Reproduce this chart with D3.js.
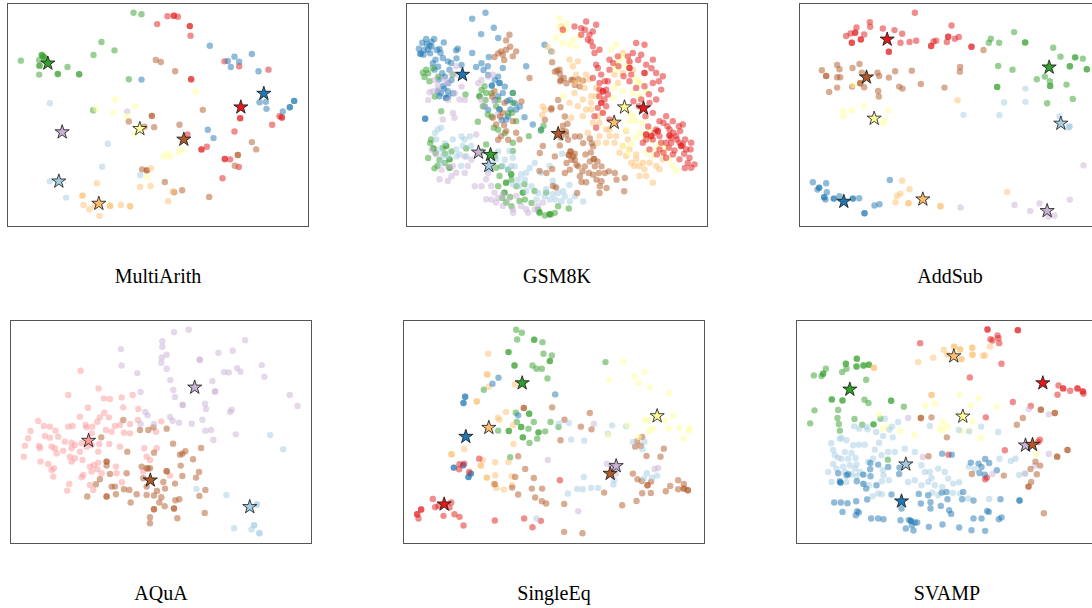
<!DOCTYPE html>
<html>
<head>
<meta charset="utf-8">
<script src="https://cdn.jsdelivr.net/npm/d3@7"></script>
<style>
    body { margin: 0; background: #fff; }
    svg { display: block; }
</style>
</head>
<body>
<div id="chart"></div>
<script>

// Cluster ids index into d3.schemePaired. Points are [dim1, dim2] or [dim1, dim2, count]
// (count > 1 where several samples sit on the same spot). Stars are [cluster, dim1, dim2].

const multiArithPoints = [
    [3, [[62,182],[117,180],[125,165,2],[130,170,2],[118,197,2],[135,175],[117,224],[173,222,2],[237,223,2],[202,201],[280,165],[304,126],[343,151],[400,38],[424,42],[386,238],[279,331]]],
    [5, [[471,72],[502,48],[521,47,2],[533,50],[569,78,2],[571,107],[573,238,2],[673,184],[717,199],[805,209],[720,355,2],[703,395],[816,375],[838,349],[845,353,2],[562,404],[604,449,2],[620,441],[674,478,2],[690,479],[716,502],[667,536]]],
    [1, [[629,137],[683,183],[703,170],[717,185],[692,201],[755,162],[775,214],[778,307],[797,306],[799,327],[848,335],[869,322,2],[882,303,2],[424,239],[623,390],[640,415]]],
    [0, [[149,310],[323,432],[306,501],[149,545],[198,594],[420,527]]],
    [8, [[381,335]]],
    [10, [[345,298],[405,320],[381,348],[339,338],[287,327],[586,275],[403,403],[490,470],[502,463],[510,470],[535,457],[547,451],[440,533]]],
    [11, [[467,180],[482,186],[525,214],[608,330],[455,348,2],[386,365],[433,381],[462,382],[538,375],[755,427],[768,449],[713,466,2],[704,498],[426,509],[440,512,2],[494,547],[522,578],[546,572],[627,592]]],
    [6, [[290,551],[247,588,2],[250,616],[268,629],[284,619],[330,619,2],[362,616],[390,620,2],[298,649],[420,562],[451,559],[504,605],[518,575],[452,506]]]
];
const multiArithStars = [[3,143,190],[5,722,322],[1,791,281],[0,176,545],[8,186,397],[10,419,387],[11,551,419],[6,296,612]];

const gsm8kPoints = [
    [1, [[262,38],[222,56],[287,83],[249,102],[300,114],[84,117],[108,117],[94,137],[67,161,2],[76,164],[89,149],[124,147],[137,127],[179,146],[174,151],[222,159],[234,201],[269,199],[272,171],[314,204],[304,249,2],[281,257,2],[314,279],[344,279],[327,304],[337,329],[354,329],[379,352],[304,329,2],[324,359],[311,361],[384,199],[439,134],[459,154],[81,357,2],[109,209],[122,239],[134,259],[149,274],[144,294,2],[124,289],[119,274],[159,189],[134,174],[149,184],[154,209],[112,179],[429,389],[404,374],[100,125],[127,158],
         [72,128],[86,132],[100,140],[116,150],[62,146],[78,150],[96,160],[104,190],[120,200],[132,220],[140,230],[150,250],[160,240],[138,266],[128,280],[150,290],[165,280],[175,175],[190,195],[250,190],[256,210],[270,225],[290,240],[300,230],[320,260],[335,300],[350,310],[365,320],[290,300],[300,290],[330,350],[270,330],[260,320]]],
    [3, [[84,209],[79,231],[94,244],[104,204],[129,334],[202,284],[244,289,2],[264,279],[259,259],[254,319],[269,344],[239,366],[287,384],[344,279],[344,309],[342,339],[354,364],[294,319],[99,419],[106,446,2],[134,444],[144,439,2],[154,479,2],[124,481],[109,506],[154,504,2],[204,446],[344,429],[344,454],[294,504],[304,529],[324,549,2],[339,524,2],[319,579,2],[379,554],[374,579,2],[409,574],[324,609],[364,604],[424,639,2],[454,644,2],[444,579],[392,409],[164,224],[264,434],[436,378],[428,393],[512,627],[458,645],[440,648],
         [90,220],[74,218],[120,230],[110,290],[250,270],[262,300],[280,280],[300,300],[330,340],[280,350],[300,390],[320,400],[96,430],[112,460],[140,462],[160,455],[90,475],[118,498],[140,490],[250,455],[290,470],[310,500],[330,510],[340,540],[355,560],[300,560],[312,595],[340,620],[380,600],[400,610],[420,630],[470,640],[480,620],[336,592]]],
    [8, [[174,199],[179,224],[149,249],[119,257],[104,274],[94,277],[184,299],[164,339],[169,354],[134,359],[284,224],[289,304],[299,344],[114,464],[164,499],[174,519],[124,539],[149,544],[209,499],[264,539],[279,559],[264,599],[289,579],[314,584],[294,609],[314,619],[344,629],[369,619],[384,629],[419,619],[434,609],[354,589],[234,404],
         [160,220],[140,240],[120,270],[110,240],[170,280],[190,260],[200,300],[240,250],[250,240],[270,230],[100,450],[130,510],[160,530],[200,520],[220,480],[200,470],[270,520],[250,560],[280,600],[300,595],[330,600],[345,640],[390,640],[410,630],[230,560],[150,500],[250,300],[260,320],[90,300],[150,300]]],
    [0, [[119,389],[129,384],[114,419],[124,449],[134,469],[174,449],[184,464],[194,439],[199,419],[219,439],[189,499],[164,419],[334,454],[344,474],[314,499],[339,499],[369,524],[384,519],[344,554],[364,559],[384,574],[444,569],[464,584],[429,519],[454,499],[274,509],[294,479],[480,580],[495,575],[455,600],[472,600],[490,605],[515,605],[555,606],[492,462],[464,543],[514,556],
         [110,400],[140,430],[150,470],[130,490],[175,470],[205,470],[190,410],[215,410],[320,480],[330,510],[360,540],[380,540],[400,560],[420,580],[440,590],[415,600],[350,500],[470,560],[500,590],[530,590],[395,505],[410,490],[300,455],[280,490]]],
    [11, [[334,104],[324,121],[309,154],[314,164],[289,171],[344,169],[354,154],[324,149],[394,234],[289,274],[319,309],[314,339],[284,354],[294,374],[324,394],[309,409],[354,399],[364,419],[344,364],[434,439],[459,329],[424,514],[464,559],[474,564],[462,187],[477,212],[485,222],[488,240],[497,234],[520,240],[540,238],[555,242],[460,325],[487,322],[500,350],[508,372],[494,378],[503,395],[488,413],[485,437],[545,410],[517,455,2],[512,466,2],[525,470],[520,480],[505,490],[535,495],[537,580],[550,547],[553,515],[575,416],[581,430],[585,440],[578,458],[587,478,2],[598,485],[590,500],[602,520],[605,560],[620,520],[632,515],[655,540],[680,535],[678,575],[604,580],[540,500],[575,485],[484,209],[486,244],[524,239],
         [504,404],[492,394],[510,420],[530,462],[530,480],[560,500],[585,525],[595,540],[572,520],[564,548],[545,530],[610,545],[625,565],[650,520],[530,410],[555,430],[610,500],[470,470],[500,520],[515,510],[562,464],[480,300],[505,250],[530,255],[545,260],[470,215],[300,160],[318,180],[336,140],[282,290],[306,350],[330,420],[300,420],[318,376],[370,305],[440,360],[425,460],[445,520],[462,508]]],
    [6, [[489,79],[514,179],[539,184],[564,224],[574,239],[559,264],[529,279],[554,299],[539,319],[564,329],[579,309],[554,349],[584,369],[614,339],[634,389],[654,409],[649,429],[674,439],[684,394],[624,429],[604,409],[684,469],[714,479],[709,499],[724,529],[754,489],[774,499],[794,479],[764,549],[714,464],[659,249],[674,219],[704,209],[649,224],[694,189],[674,159],[519,354],[448,140],[462,155],[434,320],[432,345],[514,309],[440,330],
         [524,199],[534,224],[549,244],[594,264],[594,289],[579,329],[569,399],[604,369],[624,389],[664,459],[694,449],[699,489],[734,489],[739,509],[784,509],[744,529],[724,499],[634,409],[599,429],[689,419],[579,289],[529,249],[599,349]]],
    [10, [[484,54],[504,69],[494,99],[474,114],[514,134],[534,139],[494,129],[654,134],[639,149],[674,169],[654,194],[714,234],[719,249],[704,279],[724,289],[694,339],[714,364],[734,369],[724,399],[739,409],[759,419],[774,449],[794,459],[814,479],[834,514],[674,439],[699,434],[754,389],[784,434],[494,289],[644,294],
         [504,89],[524,119],[484,79],[544,109],[664,179],[654,209],[684,199],[724,249],[744,274],[694,364],[704,349],[684,389],[744,459],[764,469],[804,444],[824,499],[689,459],[714,414],[649,264],[674,274]]],
    [5, [[529,79],[549,84],[564,64],[594,74],[494,89],[549,104],[569,119],[584,139],[589,159],[594,194],[584,234],[609,224],[604,269],[624,269],[619,299],[609,309,2],[624,319],[614,339],[634,359],[594,384],[599,204],[629,244],[634,209],[659,169],[689,169],[694,184],[714,129],[739,134],[704,159],[729,164],[744,194],[764,179],[739,219,2],[774,219],[764,249],[794,229],[789,269],[739,259],[714,264],[699,224],[729,299],[754,309],[764,339],[784,364],[804,349],[824,364],[854,374],[774,389],[784,409],[814,389],[819,414],[804,429],[834,409],[844,429],[854,434],[864,449],[879,429],[874,474],[889,494],[879,504],[824,464],[804,474],[764,419],[744,419],[734,429],[754,449],[784,449],[844,479],[819,429],[814,407,2],[849,439,2],[779,394,2],[744,404,2],[759,409,2],[694,204,2],[614,274,2],
         [846,394],[836,419],[826,399],[808,379],[796,369],[812,444],[829,452],[858,462],[869,490],[789,429],[769,399],[750,380],[742,349],[722,319],[706,304],[752,283],[774,299],[694,244],[676,229],[661,199],[645,189],[634,179],[720,180],[760,205],[782,244],[620,244],[604,249],[604,289],[629,284],[599,324],[589,349],[842,379],[861,419],[877,449],[860,505],[796,459],[776,464],[560,89],[584,94],[574,104],[604,149],[578,124]]]
];
const gsm8kStars = [[1,193,224],[8,241,458],[3,277,465],[0,272,498],[11,480,402],[6,648,368],[10,679,322],[5,736,325]];

const addSubPoints = [
    [5, [[374,38],[239,66],[240,80],[199,82],[181,100],[195,98,2],[168,108],[222,103],[212,118,2],[185,128,2],[278,85],[313,90],[336,101],[331,128],[358,126],[378,122],[296,155,2],[423,138,2],[430,124],[438,122],[470,126],[474,110,2],[494,116],[506,111],[484,76],[544,140,2]]],
    [11, [[95,211],[108,228,2],[141,195],[148,208],[141,232],[150,232],[187,204],[208,192],[215,218],[262,218],[267,228],[315,214],[365,212],[296,233],[222,262],[210,250,2],[186,260],[141,263],[117,276],[264,273],[266,290],[327,260],[337,266],[392,252],[463,263],[510,201],[509,215],[580,150]]],
    [10, [[159,333],[160,349],[185,331],[222,318],[295,332],[283,360],[280,372],[190,255]]],
    [6, [[502,301],[336,543],[358,569],[331,582],[321,589],[316,608],[355,611,2],[451,620,2],[651,577]]],
    [0, [[520,345],[642,308],[628,346],[706,306],[706,266],[808,349],[838,380,2],[835,383]]],
    [3, [[602,116],[596,128],[627,128],[672,96],[705,127,2],[789,143],[811,170],[855,172,2],[878,176],[839,199,2],[890,208,2],[624,198],[667,209],[621,261,2],[740,238],[764,230],[779,244],[780,258,2],[829,254],[848,297],[771,310]]],
    [1, [[68,548],[87,564,2],[82,570],[108,551],[110,578],[102,593,2],[106,600],[131,597,2],[148,590],[188,597,2],[207,596],[223,641,2],[253,618],[268,614],[299,541]]],
    [8, [[880,497],[839,600],[748,612],[720,634],[673,616],[775,651],[793,648],[511,624]]]
];
const addSubStars = [[5,291,118],[11,229,232],[10,252,356],[6,398,599],[0,812,371],[3,777,202],[1,161,606],[8,771,634]];

const aquaPoints = [
    [4, [[242,176],[205,249],[296,229],[312,259],[330,261],[365,256],[398,249],[264,287],[240,314],[313,302],[300,316],[292,329],[327,316],[260,346],[277,344],[257,339],[275,364],[318,354],[335,359],[345,342],[360,339],[370,286],[390,336],[372,362],[390,364],[415,291],[414,324],[115,327],[132,342],[150,344],[167,356],[92,357],[85,379],[75,401],[72,434],[118,402],[120,409],[135,372],[150,377],[155,404],[165,409],[175,374],[195,389],[215,392],[205,344],[218,342],[225,399],[215,409],[240,419],[260,404],[275,399],[245,394],[170,424],[190,416],[210,434],[215,449],[225,439],[248,444],[270,464],[282,460],[295,452],[275,479],[250,489],[245,496],[208,516],[202,536],[160,494],[155,474],[145,456],[122,449],[162,469],[270,519],[280,534],[298,396],[328,396],[360,404],[295,419],[350,484],[348,464],[366,511],[433,409],[440,434],[450,444],[430,479],[468,359],[470,409],[292,472],[305,484],[484,328],[510,491]]],
    [11, [[370,324],[304,376],[320,449,2],[320,461],[382,419],[380,484],[330,486],[300,502],[288,517],[262,554],[320,554,2],[335,524],[345,524],[348,547],[372,532],[388,534],[410,547],[392,572],[440,549],[440,524],[430,499],[425,464],[440,469],[450,469],[420,354],[445,354],[460,346],[462,422],[462,592,2],[450,616],[450,634],[500,350],[519,395],[540,428],[547,425],[556,418],[579,442],[603,408],[542,461],[500,478,2],[490,510],[495,530],[471,537],[484,556],[478,572],[494,583],[522,590,2],[526,565],[538,562],[532,619],[598,552],[616,534],[588,497],[597,480],[614,603],[525,515],[547,492],[444,470],[462,551]]],
    [8, [[363,111],[365,160],[412,183],[422,240],[436,300],[443,310],[487,87],[487,104],[485,136],[484,152],[500,128],[500,170],[522,60],[566,53],[599,143,2],[520,234],[525,255],[511,204],[548,279,2],[510,315],[518,326],[537,332],[575,335],[607,323],[616,356],[633,354],[640,384],[615,275],[618,291],[637,207],[645,238,2],[655,122],[672,180],[686,181],[698,116],[711,168],[721,179],[735,84],[785,159],[793,194],[869,249],[892,282],[690,300],[695,293],[707,367],[462,336],[422,336]]],
    [0, [[810,369],[849,412],[589,531],[679,549],[770,578,2],[762,640,2],[778,664,2],[702,649],[754,653]]]
];
const aquaStars = [[4,266,386],[11,451,505],[8,584,226],[0,749,585]];

const singleEqPoints = [
    [3, [[363,53],[380,62],[366,82],[417,83,2],[442,90],[340,120,2],[445,125],[470,130],[464,147,2],[358,160,2],[412,160],[424,170],[440,170],[457,199],[266,233],[362,302],[402,305,2],[378,345,2],[341,357,2],[309,356],[400,350],[416,330],[430,361,2],[450,358],[466,330],[490,345],[383,376,2],[403,393],[426,380],[345,436],[631,150],[365,330]]],
    [6, [[279,125],[276,187,2],[281,224],[245,268,2],[333,300],[308,317],[313,323],[353,340],[355,396],[207,411],[169,427,2],[257,461,2],[263,445],[300,451],[340,450],[275,497,2],[300,490],[304,528],[326,533],[350,493],[351,520],[296,515],[359,217]]],
    [1, [[310,197],[292,215],[480,247],[210,254,2],[205,273,2],[369,310],[176,467,2],[204,460,2],[227,485,2],[220,495,2]]],
    [5, [[252,440],[193,457],[207,455],[192,472],[222,480],[113,561],[78,593,2],[66,607,2],[70,620],[120,586],[130,582],[168,572],[163,587],[145,612],[178,607],[193,615],[205,641],[299,626],[387,620],[437,627],[412,646],[494,505]]],
    [11, [[386,288,2],[471,286],[508,323],[584,303],[557,344],[589,352],[496,385],[369,433],[390,471],[360,495],[416,498],[441,530],[410,530],[351,527],[369,548],[420,557],[440,568],[453,575],[507,576],[507,660],[562,664],[299,517],[627,542],[681,580],[713,485],[726,388],[720,404],[737,402],[754,432],[806,410],[796,434],[727,502],[740,507],[757,520,2],[768,509],[724,567],[741,544],[767,543],[812,538],[825,522],[849,505],[849,532],[866,530,2],[878,535,2],[866,516],[741,375]]],
    [0, [[491,335],[521,333],[528,383],[567,386],[651,340],[638,365],[693,343],[713,390],[748,390],[742,412],[566,495],[518,545],[546,531],[563,532],[588,528],[609,528],[657,505],[655,518],[755,484],[771,497],[786,491],[746,500],[424,620]]],
    [8, [[596,336],[458,444],[635,455],[648,460],[662,485],[778,471],[789,468],[549,598]]],
    [10, [[685,149],[718,193],[748,180],[731,213],[764,226],[821,243],[643,203],[698,340],[750,325],[758,322],[773,349],[810,325],[820,350],[852,348],[884,349],[880,357],[833,311],[866,380],[730,375],[760,357],[640,370]]]
];
const singleEqStars = [[3,381,213],[6,281,347],[1,212,374],[5,147,577],[11,645,485],[8,663,462],[10,786,312]];

const svampPoints = [
    [3, [[77,190],[100,192],[105,185,2],[113,170],[162,180],[173,155,2],[175,170],[206,140,2],[205,163,2],[226,160,2],[242,158,2],[234,203],[131,262,2],[163,265,2],[229,263],[241,273],[309,266,2],[347,284],[79,295],[66,334],[150,294],[148,318],[152,336],[155,356],[199,321],[222,338],[256,337,2],[277,320],[299,443]]],
    [6, [[257,167,2],[390,150],[435,137],[467,113],[477,128],[498,104,2],[516,112,2],[520,141,2],[552,107,2],[553,128,2],[585,131],[590,130],[606,103],[430,249,2]]],
    [5, [[396,93],[598,52,2],[689,54,2],[607,81],[613,85],[628,70],[631,78],[633,93],[640,155],[545,196],[674,270],[728,282],[811,220],[825,229,2],[808,248],[846,236],[868,229,2],[884,238,2],[886,245],[593,316],[650,415],[755,383],[750,390],[481,428],[591,502],[596,497]]],
    [10, [[411,281],[440,274],[514,248],[571,258],[548,280],[626,284],[272,308],[285,350],[299,343],[336,357],[379,369],[464,329],[477,344],[463,355],[455,348],[519,357],[543,356],[553,328],[578,378],[744,426]]],
    [0, [[129,394],[155,380],[160,378],[175,385],[195,400],[230,398],[212,398],[135,414],[150,437],[170,420],[190,423],[202,438],[135,456],[165,464],[185,460],[205,458],[130,510],[190,487],[205,493],[226,488],[175,510],[225,515],[242,520],[281,508],[286,490],[302,505],[253,553],[270,545],[281,547],[284,474],[260,413],[273,392],[285,372],[304,353],[314,376],[312,344],[264,360],[238,352],[213,350],[198,343],[235,344],[290,320],[330,330],[425,480],[430,498],[440,520],[432,542],[462,525],[450,550],[495,515],[513,511],[494,543],[515,545],[540,560],[425,342],[512,354],[543,358],[579,344],[630,360],[668,447],[682,440],[693,489],[710,485],[603,561],[634,440],[542,464],[560,472],
         [140,430],[160,440],[180,440],[145,470],[170,480],[120,480],[200,470],[215,480],[240,450],[255,440],[280,430],[300,420],[320,420],[350,410],[380,420],[400,460],[410,480],[450,470],[470,480],[480,500],[420,510],[400,520],[380,505],[360,510]]],
    [1, [[247,453],[270,458],[300,465],[246,472],[225,488],[247,493],[265,520],[226,516],[234,530],[206,508],[150,484],[180,487],[155,508],[175,490],[157,512,2],[138,572],[158,572],[178,574],[163,600],[204,568],[237,563],[207,598],[212,602],[203,610],[249,620],[270,620],[286,622],[333,486],[334,467],[310,548],[340,590],[337,625],[362,624],[368,627,2],[371,640],[380,632],[353,650],[376,656],[387,632],[392,546],[398,575],[420,550],[427,571],[427,590],[458,582],[461,542],[475,540],[478,562],[483,595],[489,606],[422,645],[463,638],[513,647],[522,562],[525,540],[556,566],[550,655],[556,620],[580,620],[591,657],[597,597],[602,600],[637,562],[632,622],[640,617],[694,566,2],[462,425],[491,428],[548,452],[571,455],[580,465],[574,483],[590,488],[591,441],[603,453],[626,475]]],
    [8, [[360,318],[404,435],[722,291],[782,307],[782,426],[613,486],[711,485],[740,461]]],
    [11, [[398,318,2],[430,316],[476,376],[421,433],[551,486],[647,491],[686,338],[704,318],[758,293,2],[800,303,2],[756,461],[742,449],[807,434,2],[838,414,2],[727,471],[746,487],[729,510],[721,524,2],[767,604]]]
];
const svampStars = [[3,185,232],[6,497,132],[5,764,213],[10,524,313],[0,353,457],[1,340,568],[8,712,400],[11,733,398]];

const datasetNames = ["MultiArith", "GSM8K", "AddSub", "AQuA", "SingleEq", "SVAMP"];
// embedding extent shown in each panel: [x0, x1, y0, y1] (y grows downwards)
const datasetExtents = [
    [22, 925, 10, 681], [25, 928, 10, 681], [28, 931, 10, 681],
    [32, 934, 25, 695], [25, 928, 25, 695], [25, 928, 25, 695]
];


class EmbeddingPanel {

    constructor(svg, title, clusters, stars, extent, box) {
        this.svg = svg;
        this.title = title;
        this.clusters = clusters;
        this.stars = stars;
        this.extent = extent;
        this.box = box;

        this.initVis();
    }

    initVis() {
        let vis = this;

        vis.width = 301;
        vis.height = 223;

        vis.x = d3.scaleLinear()
            .domain([vis.extent[0], vis.extent[1]])
            .range([vis.box.left, vis.box.left + vis.width]);

        vis.y = d3.scaleLinear()
            .domain([vis.extent[2], vis.extent[3]])
            .range([vis.box.top, vis.box.top + vis.height]);

        vis.color = d3.scaleOrdinal()
            .domain(d3.range(12))
            .range(d3.schemePaired);

        const clipId = "clip-" + vis.title;
        vis.svg.append("clipPath")
            .attr("id", clipId)
            .append("rect")
            .attr("x", vis.box.left)
            .attr("y", vis.box.top)
            .attr("width", vis.width)
            .attr("height", vis.height);

        vis.g = vis.svg.append("g")
            .attr("clip-path", `url(#${clipId})`);

        // one circle per sample, repeated where samples overlap
        vis.displayData = [];
        vis.clusters.forEach(([cluster, pts]) => {
            pts.forEach(p => {
                const n = p[2] || 1;
                for (let i = 0; i < n; i++) {
                    vis.displayData.push({cluster: cluster, a: p[0], b: p[1]});
                }
            });
        });

        vis.g.selectAll(".dot")
            .data(vis.displayData)
            .enter()
            .append("circle")
            .attr("class", "dot")
            .attr("cx", d => vis.x(d.a))
            .attr("cy", d => vis.y(d.b))
            .attr("r", 3.2)
            .attr("fill", d => vis.color(d.cluster))
            .attr("fill-opacity", 0.5);

        vis.g.selectAll(".centroid")
            .data(vis.stars)
            .enter()
            .append("path")
            .attr("class", "centroid")
            .attr("d", d3.symbol().type(d3.symbolStar).size(62))
            .attr("transform", d => `translate(${vis.x(d[1])}, ${vis.y(d[2])})`)
            .attr("fill", d => vis.color(d[0]))
            .attr("stroke", "#111")
            .attr("stroke-width", 0.8);

        vis.svg.append("rect")
            .attr("x", vis.box.left)
            .attr("y", vis.box.top)
            .attr("width", vis.width)
            .attr("height", vis.height)
            .attr("fill", "none")
            .attr("stroke", "#555")
            .attr("stroke-width", 1);

        vis.svg.append("text")
            .attr("x", vis.box.left + vis.width / 2)
            .attr("y", vis.box.top + vis.height + 56)
            .attr("text-anchor", "middle")
            .attr("font-family", "'Liberation Serif', 'Times New Roman', serif")
            .attr("font-size", 20)
            .attr("fill", "#000")
            .text(vis.title);
    }
}


const svg = d3.select("#chart").append("svg")
    .attr("width", 1092)
    .attr("height", 608);

const boxes = [
    {left: 7.5, top: 3.5}, {left: 406.5, top: 3.5}, {left: 799.5, top: 3.5},
    {left: 10.5, top: 320.5}, {left: 403.5, top: 320.5}, {left: 796.5, top: 320.5}
];

const allPoints = [multiArithPoints, gsm8kPoints, addSubPoints, aquaPoints, singleEqPoints, svampPoints];
const allStars = [multiArithStars, gsm8kStars, addSubStars, aquaStars, singleEqStars, svampStars];

datasetNames.forEach((name, i) => {
    new EmbeddingPanel(svg, name, allPoints[i], allStars[i], datasetExtents[i], boxes[i]);
});

</script>
</body>
</html>
